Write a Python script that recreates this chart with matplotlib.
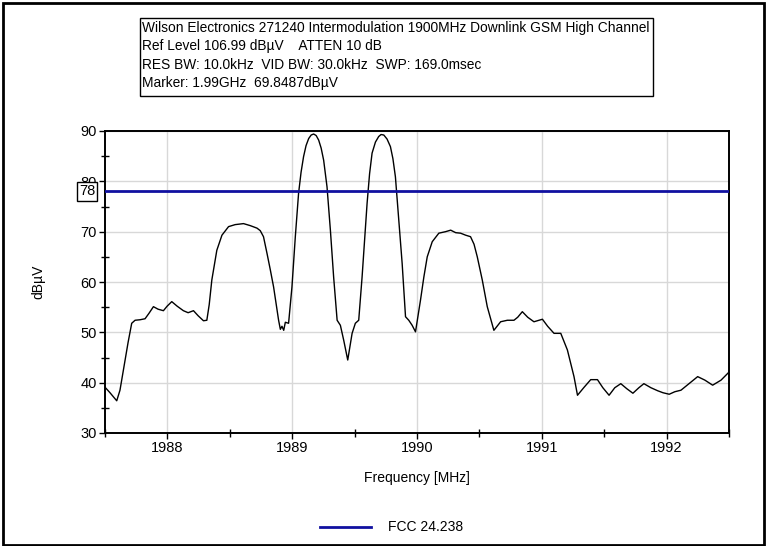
import matplotlib
matplotlib.use("Agg")
import matplotlib.pyplot as plt
from matplotlib.patches import Rectangle
from matplotlib.lines import Line2D
from matplotlib.ticker import MultipleLocator

plt.rcParams['font.family'] = ['Liberation Sans', 'DejaVu Sans']

# Spectrum trace (frequency in MHz, level in dBuV)
freq = [1987.50, 1987.54, 1987.594, 1987.62, 1987.661, 1987.685, 1987.714, 1987.741, 1987.781,
        1987.821, 1987.853, 1987.888, 1987.925, 1987.968, 1987.998, 1988.035, 1988.078, 1988.128,
        1988.166, 1988.209, 1988.246, 1988.289, 1988.316, 1988.335, 1988.356, 1988.396, 1988.437,
        1988.490, 1988.543, 1988.610, 1988.664, 1988.718, 1988.744, 1988.770, 1988.798, 1988.824,
        1988.851, 1988.891, 1988.905, 1988.918, 1988.932, 1988.945, 1988.971, 1988.998, 1989.025,
        1989.051, 1989.071, 1989.091, 1989.111, 1989.132, 1989.152, 1989.172, 1989.192, 1989.212,
        1989.232, 1989.252, 1989.279, 1989.306, 1989.332, 1989.360, 1989.386, 1989.413, 1989.445,
        1989.480, 1989.506, 1989.533, 1989.560, 1989.600, 1989.620, 1989.640, 1989.667, 1989.693,
        1989.712, 1989.734, 1989.760, 1989.787, 1989.807, 1989.827, 1989.854, 1989.881, 1989.908,
        1989.934, 1989.961, 1989.988, 1990.028, 1990.055, 1990.082, 1990.122, 1990.175, 1990.229,
        1990.270, 1990.310, 1990.349, 1990.390, 1990.429, 1990.457, 1990.483, 1990.523, 1990.563,
        1990.616, 1990.670, 1990.724, 1990.777, 1990.807, 1990.844, 1990.887, 1990.937, 1991.005,
        1991.047, 1991.098, 1991.152, 1991.205, 1991.258, 1991.286, 1991.336, 1991.392, 1991.446,
        1991.489, 1991.539, 1991.585, 1991.633, 1991.681, 1991.730, 1991.778, 1991.818, 1991.874,
        1991.928, 1991.971, 1992.021, 1992.066, 1992.115, 1992.179, 1992.249, 1992.307, 1992.369,
        1992.436, 1992.500]
level = [39.1, 38.0, 36.4, 38.5, 44.5, 48.0, 51.8, 52.4, 52.5,
         52.7, 53.8, 55.1, 54.6, 54.3, 55.2, 56.1, 55.2, 54.3,
         53.9, 54.3, 53.3, 52.3, 52.4, 55.5, 60.4, 66.3, 69.3,
         71.0, 71.4, 71.6, 71.2, 70.7, 70.2, 69.0, 65.7, 62.5,
         59.0, 52.4, 50.6, 51.2, 50.4, 52.0, 51.8, 59.0, 69.0,
         77.6, 81.8, 84.9, 87.1, 88.5, 89.2, 89.4, 89.1, 88.2,
         86.6, 84.2, 78.9, 70.3, 61.0, 52.4, 51.4, 48.4, 44.5,
         49.8, 51.8, 52.4, 61.0, 75.6, 81.5, 85.6, 87.8, 88.9,
         89.3, 89.2, 88.4, 86.9, 84.5, 80.9, 72.3, 63.7, 53.1,
         52.4, 51.4, 50.1, 56.4, 61.0, 65.0, 68.0, 69.7, 70.0,
         70.3, 69.8, 69.7, 69.3, 69.0, 67.5, 65.0, 60.4, 55.1,
         50.4, 52.1, 52.4, 52.4, 53.0, 54.1, 53.0, 52.1, 52.6,
         51.2, 49.8, 49.8, 46.5, 41.2, 37.5, 39.0, 40.6, 40.6,
         39.0, 37.5, 39.0, 39.8, 38.8, 37.9, 39.0, 39.8, 39.0,
         38.4, 38.0, 37.7, 38.2, 38.5, 39.8, 41.2, 40.5, 39.5,
         40.5, 42.1]

limit_value = 78
limit_label = "FCC 24.238"
header_lines = [
    "Wilson Electronics 271240 Intermodulation 1900MHz Downlink GSM High Channel",
    "Ref Level 106.99 dB\u00b5V    ATTEN 10 dB",
    "RES BW: 10.0kHz  VID BW: 30.0kHz  SWP: 169.0msec",
    "Marker: 1.99GHz  69.8487dB\u00b5V",
]
xticks = [1988, 1989, 1990, 1991, 1992]
yticks = [30, 40, 50, 60, 70, 80, 90]

W, H = 767, 546
fig = plt.figure(figsize=(W / 100, H / 100), dpi=100)
fig.patch.set_facecolor('white')

ax = fig.add_axes([105 / W, 1 - 433 / H, (729 - 105) / W, (433 - 131) / H])
ax.plot(freq, level, color='black', lw=1.0, zorder=3)
ax.axhline(limit_value, color='#1010a0', lw=2.0, zorder=4)

ax.set_xlim(1987.5, 1992.5)
ax.set_ylim(30, 90)
ax.set_xticks(xticks)
ax.set_yticks(yticks)
ax.xaxis.set_minor_locator(MultipleLocator(0.5))
ax.yaxis.set_minor_locator(MultipleLocator(5))
ax.tick_params(which='major', direction='out', length=4, width=1, labelsize=10.5, pad=2)
ax.tick_params(which='minor', direction='inout', length=6, width=1)
ax.grid(True, which='major', color='#d8d8d8', lw=1.0, zorder=0)
for s in ax.spines.values():
    s.set_linewidth(1.4)
ax.set_xlabel("Frequency [MHz]", fontsize=10)
ax.set_ylabel("dB\u00b5V", fontsize=10)
ax.xaxis.set_label_coords(0.5, (433 - 478) / 302, transform=ax.transAxes)
ax.yaxis.set_label_coords((38 - 105) / 624, 0.5, transform=ax.transAxes)
ax.xaxis.label.set_va('center')
ax.yaxis.label.set_va('center')

# limit value box on the y axis
ax.annotate(str(limit_value), xy=(0, limit_value), xycoords=('axes fraction', 'data'),
            xytext=(-13, 0), textcoords='offset points', ha='center', va='center',
            fontsize=10.5, zorder=10, annotation_clip=False,
            bbox=dict(boxstyle='square,pad=0.15', fc='white', ec='black', lw=1.0))

# header box
fig.patches.append(Rectangle((140 / W, 1 - 96 / H), (653 - 140) / W, (96 - 18) / H,
                             transform=fig.transFigure, fill=False, ec='black', lw=1.0))
for i, line in enumerate(header_lines):
    fig.text(142 / W, 1 - (28 + i * 18.3) / H, line, fontsize=9.9, ha='left', va='center')

# legend
fig.lines.append(Line2D([320 / W, 371 / W], [1 - 527 / H, 1 - 527 / H],
                        transform=fig.transFigure, color='#1010a0', lw=2.0))
fig.text(388 / W, 1 - 527 / H, limit_label, fontsize=10, ha='left', va='center')

# outer frame
fig.patches.append(Rectangle((3 / W, 1 / H), (764 - 3) / W, (543 - 1) / H,
                             transform=fig.transFigure, fill=False, ec='black', lw=2.0))

fig.savefig("out.png", dpi=100)
